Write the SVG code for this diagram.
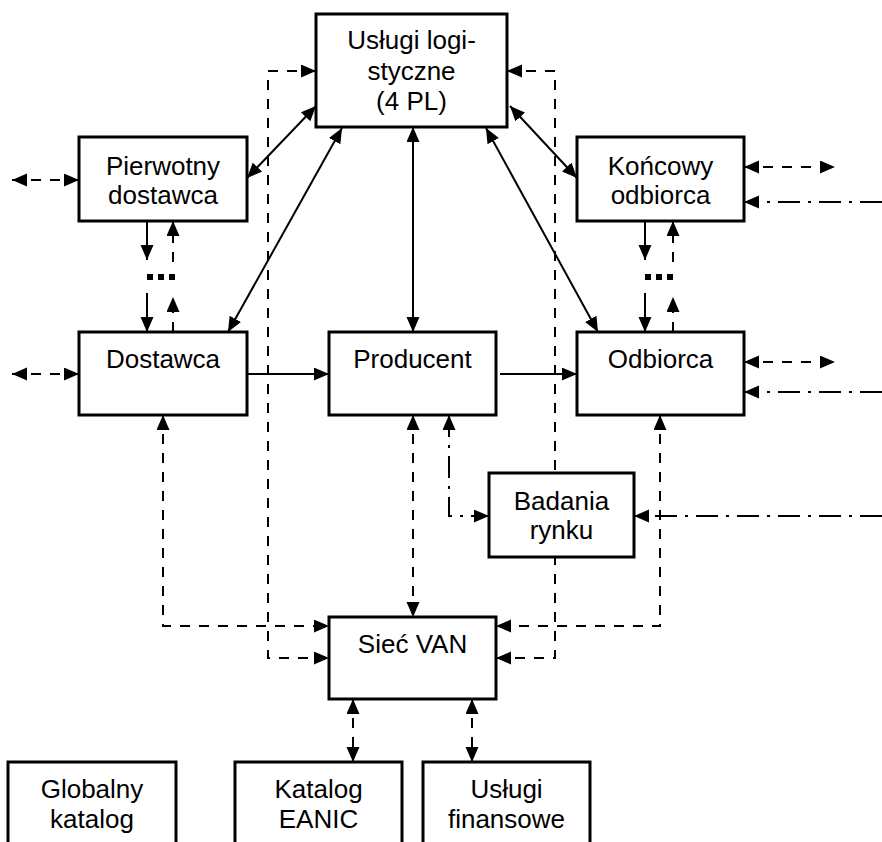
<svg xmlns="http://www.w3.org/2000/svg" width="882" height="842" viewBox="0 0 882 842">
<defs>
<marker id="ah" markerUnits="userSpaceOnUse" markerWidth="16" markerHeight="14" refX="15" refY="6.5" orient="auto-start-reverse" viewBox="0 0 16 14">
<path d="M0,0 L15,6.5 L0,13 z" fill="#000"/>
</marker>
</defs>
<style>
.box rect{fill:#fff;stroke:#000;stroke-width:3}
.box text{font-family:"Liberation Sans",Arial,sans-serif;font-size:26px;fill:#000;text-anchor:middle}
.c{fill:none;stroke:#000;stroke-width:2}
.s{}
.d{stroke-dasharray:10 9}
.dd{stroke-dasharray:22 8 3 8}
.a2{marker-start:url(#ah);marker-end:url(#ah)}
.a1{marker-end:url(#ah)}
.dot{fill:#000}
</style>
<rect width="882" height="842" fill="#fff"/>
<g id="connectors">
<!-- solid -->
<path class="c a2" d="M247,178 L316,106"/>
<path class="c a2" d="M228,332 L342,128"/>
<path class="c a2" d="M413,127 L413,332"/>
<path class="c a2" d="M510,106 L577,178"/>
<path class="c a2" d="M486,128 L598,332"/>
<path class="c a1" d="M247,374 L329,374"/>
<path class="c a1" d="M500,374 L577,374"/>
<path class="c a1" d="M147,221 L147,260"/>
<path class="c a1" d="M147,293 L147,332"/>
<path class="c a1" d="M645,221 L645,260"/>
<path class="c a1" d="M645,293 L645,332"/>
<!-- dashed -->
<path class="c d a1" d="M173,262 L173,221"/>
<path class="c d a1" d="M173,332 L173,297"/>
<path class="c d a1" d="M673,262 L673,221"/>
<path class="c d a1" d="M673,332 L673,297"/>
<path class="c d a2" d="M12,180 L79,180"/>
<path class="c d a2" d="M12,374 L79,374"/>
<path class="c d a2" d="M744,167 L835,167"/>
<path class="c d a2" d="M744,362 L835,362"/>
<path class="c d a2" d="M316,71 L268,71 L268,658 L329,658"/>
<path class="c d a2" d="M507,71 L555,71 L555,658 L496,658"/>
<path class="c d a2" d="M163,415 L163,626 L329,626"/>
<path class="c d a2" d="M660,415 L660,626 L496,626"/>
<path class="c d a2" d="M413,415 L413,617"/>
<path class="c d a2" d="M353,699 L353,762"/>
<path class="c d a2" d="M472,699 L472,762"/>
<!-- dash-dot -->
<path class="c dd a1" d="M882,202 L744,202"/>
<path class="c dd a1" d="M882,392 L744,392"/>
<path class="c dd a1" d="M882,516 L634,516"/>
<path class="c dd a2" d="M449,415 L449,516 L489,516"/>
<!-- dots -->
<rect class="dot" x="147" y="274" width="6" height="6"/>
<rect class="dot" x="158" y="274" width="6" height="6"/>
<rect class="dot" x="169" y="274" width="6" height="6"/>
<rect class="dot" x="645" y="274" width="6" height="6"/>
<rect class="dot" x="656" y="274" width="6" height="6"/>
<rect class="dot" x="667" y="274" width="6" height="6"/>
</g>
<g id="uslugi-logistyczne" class="box">
<rect x="316" y="14" width="191" height="113"/>
<text x="411.5" y="49">Usługi logi-</text>
<text x="411.5" y="80">styczne</text>
<text x="411.5" y="110">(4 PL)</text>
</g>
<g id="pierwotny-dostawca" class="box">
<rect x="79" y="137" width="168" height="84"/>
<text x="163" y="175">Pierwotny</text>
<text x="163" y="204">dostawca</text>
</g>
<g id="koncowy-odbiorca" class="box">
<rect x="577" y="137" width="167" height="84"/>
<text x="660.5" y="175">Końcowy</text>
<text x="660.5" y="204">odbiorca</text>
</g>
<g id="dostawca" class="box">
<rect x="79" y="332" width="168" height="83"/>
<text x="163" y="368">Dostawca</text>
</g>
<g id="producent" class="box">
<rect x="329" y="332" width="167" height="83"/>
<text x="412.5" y="368">Producent</text>
</g>
<g id="odbiorca" class="box">
<rect x="577" y="332" width="167" height="83"/>
<text x="660.5" y="368">Odbiorca</text>
</g>
<g id="badania-rynku" class="box">
<rect x="489" y="473" width="145" height="84"/>
<text x="561.5" y="510">Badania</text>
<text x="561.5" y="539">rynku</text>
</g>
<g id="siec-van" class="box">
<rect x="329" y="617" width="167" height="82"/>
<text x="412.5" y="653">Sieć VAN</text>
</g>
<g id="globalny-katalog" class="box">
<rect x="8" y="762" width="168" height="100"/>
<text x="92" y="798">Globalny</text>
<text x="92" y="828">katalog</text>
</g>
<g id="katalog-eanic" class="box">
<rect x="235" y="762" width="167" height="100"/>
<text x="318.5" y="798">Katalog</text>
<text x="318.5" y="828">EANIC</text>
</g>
<g id="uslugi-finansowe" class="box">
<rect x="423" y="762" width="167" height="100"/>
<text x="506.5" y="798">Usługi</text>
<text x="506.5" y="828">finansowe</text>
</g>
</svg>
